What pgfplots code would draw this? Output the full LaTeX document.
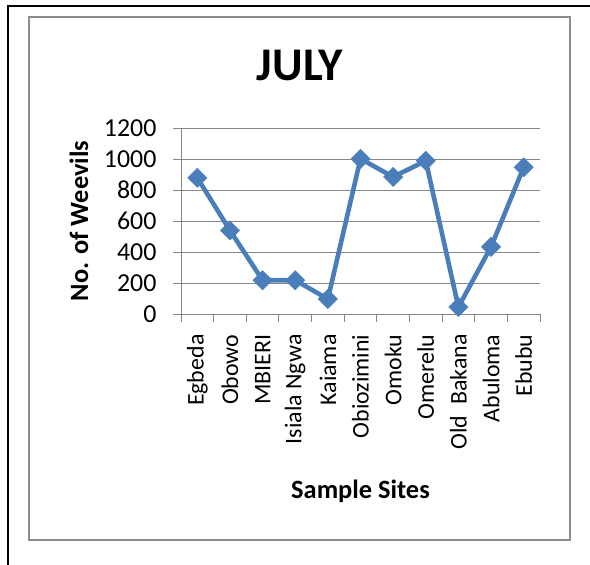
\documentclass[border=0pt]{standalone}
\usepackage{pgfplots}
\pgfplotsset{compat=1.18}
\usepackage{fontspec}
\setmainfont{Carlito}
\definecolor{serieblue}{HTML}{4A7EBB}
\definecolor{gridgray}{HTML}{868686}
\definecolor{framegray}{HTML}{8C8C8C}

% Weevil counts per sample site (July)
\pgfplotstableread{
idx count
0 880
1 540
2 218
3 218
4 97
5 1003
6 886
7 990
8 45
9 434
10 948
}\julydata

\begin{document}
\begin{tikzpicture}
\useasboundingbox (0bp,0bp) rectangle (590bp,-565bp);
% page frame and chart frame
\draw[line width=1.6bp] (8bp,-570bp) -- (8bp,-6bp) -- (595bp,-6bp);
\draw[framegray, line width=1.6bp] (29bp,-17bp) rectangle (570bp,-540bp);

\node[font=\fontsize{47}{52}\selectfont\bfseries, anchor=base] at (300bp,-80bp) {JULY};
\node[font=\fontsize{26.5}{30}\selectfont\bfseries, anchor=base] at (360.5bp,-498bp) {Sample Sites};
\node[font=\fontsize{26.5}{30}\selectfont\bfseries, rotate=90, anchor=base] at (88bp,-221bp) {No. of Weevils};

\begin{axis}[
  at={(181bp,-314bp)}, anchor=south west,
  scale only axis, width=359bp, height=185.7bp,
  xmin=-0.5, xmax=10.5, ymin=0, ymax=1200,
  axis x line*=bottom, axis y line*=left,
  axis line style={gridgray, line width=1bp, -},
  tick align=outside,
  tick style={gridgray, line width=1bp},
  ytick={0,200,...,1200},
  ymajorgrids,
  grid style={gridgray, line width=1bp},
  major tick length=8bp,
  xtick={0,...,10},
  x tick style={draw=none},
  minor xtick={-0.5,0.5,...,10.5},
  minor x tick style={draw=gridgray, line width=1bp},
  minor tick length=8bp,
  xticklabels={Egbeda,Obowo,MBIERI,Isiala Ngwa,Kaiama,Obiozimini,Omoku,Omerelu,Old\ \ Bakana,Abuloma,Ebubu},
  xticklabel style={rotate=90, anchor=east, font=\fontsize{24}{28}\selectfont, xshift=-9bp},
  yticklabel style={anchor=east, font=\fontsize{26}{30}\selectfont, xshift=-13bp,
    /pgf/number format/set thousands separator={}},
  /pgf/number format/assume math mode=true,
  scaled y ticks=false,
  clip=false,
]
\addplot[serieblue, line width=4.6bp, mark=square*, mark size=6.8bp,
  mark options={rotate=45, fill=serieblue, draw=serieblue, line width=0.5bp}]
  table[x=idx, y=count] {\julydata};
\end{axis}
\end{tikzpicture}
\end{document}
